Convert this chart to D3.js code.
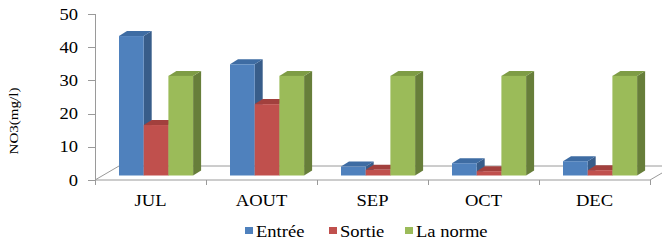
<!DOCTYPE html>
<html>
<head>
<meta charset="utf-8">
<script src="https://cdn.jsdelivr.net/npm/d3@7"></script>
<style>
  html, body { margin: 0; padding: 0; background: #fff; }
  svg { display: block; }
</style>
</head>
<body>
<script>
const categories = ["JUL", "AOUT", "SEP", "OCT", "DEC"];
const seriesNames = ["Entrée", "Sortie", "La norme"];
const entree = [42, 33.5, 2.7, 3.7, 4.3];
const sortie = [15.2, 21.5, 1.7, 1.3, 1.6];
const norme = [30, 30, 30, 30, 30];
const yTicks = [0, 10, 20, 30, 40, 50];
const yTitle = "NO3(mg/l)";

const series = [entree, sortie, norme];
const colors = [
  { front: "#4F81BD", side: "#385D8A", top: "#3E6CA3" },
  { front: "#C0504D", side: "#8C3836", top: "#A2403D" },
  { front: "#9BBB59", side: "#677E3A", top: "#7E9C45" }
];

const W = 662, H = 240;
const FONT = "'Liberation Serif'";
const svg = d3.select("body").append("svg").attr("width", W).attr("height", H);

const STRETCH = 1.16;
function txt(x, y, s, size, anchor, rot) {
  return svg.append("text")
    .attr("transform", `translate(${x},${y})` + (rot ? ` rotate(${rot})` : "") + ` scale(${STRETCH},1)`)
    .attr("text-anchor", anchor || "start")
    .style("font-family", FONT)
    .attr("font-size", size)
    .attr("fill", "#000")
    .text(s);
}

const y = d3.scaleLinear().domain([0, 50]).range([180, 14]);
const x = d3.scaleBand().domain(categories).range([95, 650]).paddingInner(0).paddingOuter(0);

const DX = 8, DY = -5;         // bar depth offset
const FDX = 24, FDY = -14;     // floor depth offset
const barLift = 4.5;           // bars stand mid-depth
const barOffset = 24, barW = 24.7;
const grey = "#9A9A9A";

// floor
svg.append("path")
  .attr("d", `M${x.range()[0]},${y(0)} L${x.range()[1]},${y(0)} L${x.range()[1] + FDX},${y(0) + FDY} L${x.range()[0] + FDX},${y(0) + FDY} Z`)
  .attr("fill", "#fff").attr("stroke", grey).attr("stroke-width", 1);

// y axis
svg.append("line").attr("x1", 95.5).attr("x2", 95.5).attr("y1", y(50)).attr("y2", y(0))
  .attr("stroke", grey).attr("stroke-width", 1);
yTicks.forEach(t => {
  svg.append("line").attr("x1", 88).attr("x2", 95.5).attr("y1", Math.round(y(t)) + 0.5).attr("y2", Math.round(y(t)) + 0.5)
    .attr("stroke", grey);
  txt(78, y(t) + 5.5, String(t), 16, "end");
});

// x axis ticks
const xEdges = categories.map(c => x(c)).concat([x.range()[1]]);
xEdges.forEach(e => {
  svg.append("line").attr("x1", Math.round(e) + 0.5).attr("x2", Math.round(e) + 0.5)
    .attr("y1", y(0)).attr("y2", y(0) + 5).attr("stroke", grey);
});
categories.forEach(c => txt(x(c) + x.bandwidth() / 2, 206, c, 16, "middle"));

// bars
categories.forEach((c, i) => {
  series.forEach((s, k) => {
    const x0 = x(c) + barOffset + k * barW, x1 = x0 + barW;
    const yb = y(0) - barLift, yt = y(s[i]) - barLift;
    const col = colors[k];
    const g = svg.append("g");
    g.append("path").attr("d", `M${x1},${yt} L${x1 + DX},${yt + DY} L${x1 + DX},${yb + DY} L${x1},${yb} Z`).attr("fill", col.side);
    g.append("path").attr("d", `M${x0},${yt} L${x0 + DX},${yt + DY} L${x1 + DX},${yt + DY} L${x1},${yt} Z`).attr("fill", col.top);
    g.append("rect").attr("x", x0).attr("y", yt).attr("width", barW).attr("height", yb - yt).attr("fill", col.front);
  });
});

// y title
txt(18, 121, yTitle, 13, "middle", -90);

// legend
const legX = [245, 329, 405];
seriesNames.forEach((n, k) => {
  svg.append("rect").attr("x", legX[k]).attr("y", 227).attr("width", 8).attr("height", 7).attr("fill", colors[k].front);
  txt(legX[k] + 11, 237, n, 16, "start");
});
</script>
</body>
</html>
